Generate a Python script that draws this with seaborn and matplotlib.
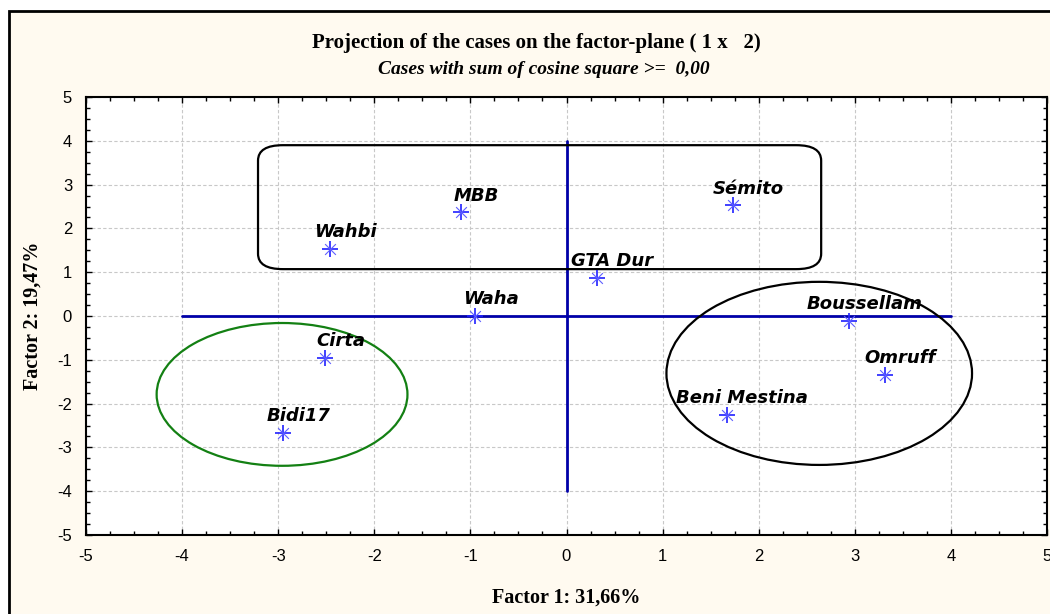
import pandas as pd
import matplotlib
matplotlib.use("Agg")
import matplotlib.pyplot as plt
import seaborn as sns
from matplotlib.patches import Ellipse, FancyBboxPatch, Rectangle
from matplotlib.ticker import MultipleLocator

# Datos: proyección de los casos sobre el plano factorial (1 x 2)
casos = ["Wahbi", "MBB", "Sémito", "GTA Dur", "Waha",
         "Boussellam", "Omruff", "Beni Mestina", "Cirta", "Bidi17"]
factor1 = [-2.46, -1.10, 1.73, 0.32, -0.95, 2.94, 3.31, 1.67, -2.51, -2.95]
factor2 = [1.53, 2.37, 2.53, 0.87, 0.01, -0.11, -1.35, -2.26, -0.96, -2.67]

df = pd.DataFrame({"Factor1": factor1, "Factor2": factor2, "Caso": casos})

sns.set_theme(style="white")
plt.rcParams['font.family'] = ['Liberation Sans', 'DejaVu Sans']
plt.rcParams['axes.unicode_minus'] = False
plt.rcParams['text.color'] = 'black'
plt.rcParams['axes.labelcolor'] = 'black'
plt.rcParams['xtick.color'] = 'black'
plt.rcParams['ytick.color'] = 'black'

fig = plt.figure(figsize=(10.5, 6.14), dpi=100)
fig.patch.set_facecolor("white")
# marco crema de la figura
fig.patches.append(Rectangle((9 / 1050, -0.05), 1.2, 1 - 11 / 614 + 0.05,
                             transform=fig.transFigure, facecolor="#FFFAF0",
                             edgecolor="black", linewidth=2, zorder=-10))

ax = fig.add_axes([86 / 1050, 79 / 614, 961 / 1050, 438 / 614])
ax.set_facecolor("white")

# ejes del plano
ax.plot([-4, 4], [0, 0], color="#0000A8", lw=2, zorder=2)
ax.plot([0, 0], [-4, 4], color="#0000A8", lw=2, zorder=2)

# agrupaciones
ax.add_patch(FancyBboxPatch((-3.21, 1.07), 5.86, 2.83,
                            boxstyle="round,pad=0,rounding_size=0.26",
                            mutation_aspect=1.35, fill=False,
                            edgecolor="black", lw=1.6, zorder=2))
ax.add_patch(Ellipse((2.63, -1.31), 3.18, 4.18, fill=False,
                     edgecolor="black", lw=1.6, zorder=2))
ax.add_patch(Ellipse((-2.96, -1.79), 2.61, 3.26, fill=False,
                     edgecolor="#138013", lw=1.6, zorder=2))

# puntos
sns.scatterplot(data=df, x="Factor1", y="Factor2", marker="+", s=130,
                color="#2020FF", linewidth=1.2, ax=ax, zorder=4)
sns.scatterplot(data=df, x="Factor1", y="Factor2", marker="x", s=60,
                color="#6060FF", linewidth=0.8, ax=ax, zorder=4)

for x, y, nombre in zip(factor1, factor2, casos):
    ax.annotate(nombre, (x, y), xytext=(11, 12), textcoords="offset points",
                ha="center", va="center", fontsize=13, fontweight="bold",
                fontstyle="italic", family="DejaVu Sans", color="black",
                zorder=5)

ax.set_xlim(-5, 5)
ax.set_ylim(-5, 5)
ax.xaxis.set_major_locator(MultipleLocator(1))
ax.yaxis.set_major_locator(MultipleLocator(1))
ax.xaxis.set_minor_locator(MultipleLocator(0.25))
ax.yaxis.set_minor_locator(MultipleLocator(0.25))
ax.tick_params(which="both", direction="in", top=True, right=True,
               bottom=True, left=True, color="black", width=1)
ax.tick_params(which="major", length=4, labelsize=12, pad=10)
ax.tick_params(which="minor", length=3)
ax.grid(True, which="major", color="#C8C8C8", linestyle=(0, (3, 2)), lw=0.8)
for s in ax.spines.values():
    s.set_color("black")
    s.set_linewidth(1.5)

ax.set_xlabel("Factor 1: 31,66%", family="Liberation Serif",
              fontweight="bold", fontsize=14.5, va="center")
ax.set_ylabel("Factor 2: 19,47%", family="Liberation Serif",
              fontweight="bold", fontsize=14.5, va="center")
ax.xaxis.set_label_coords(0.5, -(598 - 535) / 438)
ax.yaxis.set_label_coords(-(86 - 33) / 961, 0.5)

fig.text(0.511, 1 - 43 / 614, "Projection of the cases on the factor-plane ( 1 x   2)",
         ha="center", va="center", family="Liberation Serif",
         fontweight="bold", fontsize=15)
fig.text(0.518, 1 - 70 / 614, "Cases with sum of cosine square >=  0,00",
         ha="center", va="center", family="Liberation Serif",
         fontweight="bold", fontstyle="italic", fontsize=14)

fig.savefig("out.png", dpi=100)
